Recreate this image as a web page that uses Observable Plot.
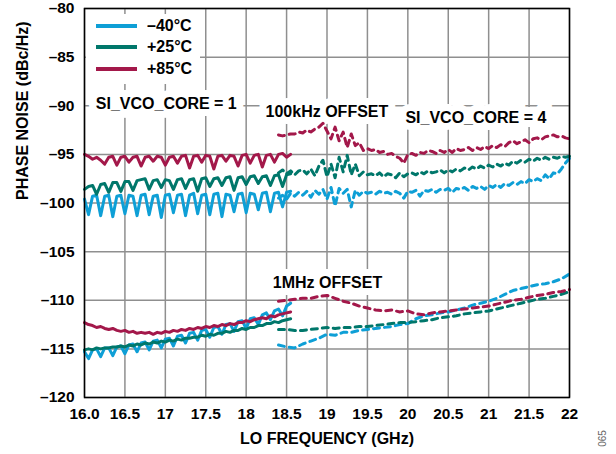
<!DOCTYPE html>
<html>
<head>
<meta charset="utf-8">
<script src="https://cdn.jsdelivr.net/npm/d3@7"></script>
<script src="https://cdn.jsdelivr.net/npm/@observablehq/plot@0.6"></script>
<style>
  html, body { margin: 0; padding: 0; background: #fff; }
  #wrap { position: relative; width: 616px; height: 454px; font-family: "Liberation Sans", Arial, sans-serif; }
  #legend { position: absolute; left: 86px; top: 14px; width: 114px; height: 70px; background: #fff; }
  .item { position: absolute; left: 10px; height: 20px; display: flex; align-items: center; font-weight: bold; font-size: 16px; color: #000; }
  .sw { width: 41px; height: 4px; margin-right: 10px; }
  #code { position: absolute; left: 594px; top: 433px; font-size: 10px; color: #666; transform: rotate(-90deg); transform-origin: center; }
</style>
</head>
<body>
<div id="wrap">
  <div id="chart"></div>
  <div id="legend"></div>
  <div id="code">065</div>
</div>
<script>
// ---------- Data ----------
const tempLabels = ["–40°C", "+25°C", "+85°C"];
const tempColors = ["#0e9fd6", "#00776b", "#a3184a"];

const xTicks = [16, 16.5, 17, 17.5, 18, 18.5, 19, 19.5, 20, 20.5, 21, 21.5, 22];
const xTickLabels = ["16.0", "16.5", "17", "17.5", "18", "18.5", "19", "19.5", "20", "20.5", "21", "21.5", "22"];
const yTicks = [-80, -85, -90, -95, -100, -105, -110, -115, -120];
const yTickLabels = ["–80", "–85", "–90", "–95", "–100", "–105", "–110", "–115", "–120"];

// SI_VCO_CORE = 1 frequency points (GHz)
const freqCore1 = [
  16.00,16.05,16.10,16.15,16.20,16.25,16.30,16.35,16.40,16.45,
  16.50,16.55,16.60,16.65,16.70,16.75,16.80,16.85,16.90,16.95,
  17.00,17.05,17.10,17.15,17.20,17.25,17.30,17.35,17.40,17.45,
  17.50,17.55,17.60,17.65,17.70,17.75,17.80,17.85,17.90,17.95,
  18.00,18.05,18.10,18.15,18.20,18.25,18.30,18.35,18.40,18.45,
  18.50,18.55];

// 100 kHz offset, SI_VCO_CORE = 1
const pn100kCore1_m40 = [
  -99.6,-101.2,-99.3,-99.2,-101.3,-99.3,-99.2,-101.4,-99.3,-99.2,
  -101.1,-99.2,-99.3,-101.3,-99.2,-99.1,-101.2,-99.3,-99.2,-101.5,
  -99.2,-99.1,-101.0,-99.2,-99.1,-101.3,-99.2,-99.0,-101.1,-99.2,
  -99.1,-101.2,-99.1,-99.0,-101.4,-99.1,-99.2,-100.9,-99.1,-99.0,
  -101.0,-99.0,-99.1,-100.7,-99.0,-98.9,-100.9,-99.0,-98.9,-100.4,
  -98.9,-98.8];
const pn100kCore1_p25 = [
  -98.6,-98.3,-98.2,-99.1,-98.1,-98.0,-98.9,-97.9,-97.9,-98.8,
  -97.8,-97.8,-98.7,-97.7,-97.6,-97.5,-98.6,-97.7,-97.6,-98.4,
  -97.6,-97.7,-98.6,-97.6,-97.5,-98.5,-97.6,-97.5,-98.8,-97.5,
  -97.4,-98.3,-97.5,-97.4,-98.2,-97.4,-97.3,-98.7,-97.4,-97.3,
  -98.1,-97.3,-97.2,-98.0,-97.3,-97.2,-98.2,-97.2,-97.1,-98.3,
  -97.1,-97.0];
const pn100kCore1_p85 = [
  -95.0,-95.2,-95.5,-95.3,-95.6,-96.0,-95.3,-95.2,-96.1,-95.3,
  -95.2,-95.8,-95.3,-95.2,-96.2,-95.3,-95.2,-95.7,-95.2,-95.3,
  -96.1,-95.3,-95.2,-95.9,-95.2,-95.1,-96.4,-95.2,-95.1,-95.8,
  -95.1,-95.2,-96.5,-95.2,-95.1,-95.7,-95.1,-95.2,-96.2,-95.1,
  -95.0,-95.9,-95.1,-95.0,-96.3,-95.1,-95.0,-95.8,-95.0,-94.9,
  -95.3,-95.0];

// 1 MHz offset, SI_VCO_CORE = 1
const pn1MCore1_m40 = [
  -115.3,-116.0,-115.1,-115.0,-115.8,-114.9,-114.9,-115.7,-114.8,-114.7,
  -115.5,-114.6,-114.5,-115.3,-114.4,-114.3,-115.1,-114.2,-114.1,-114.9,
  -114.0,-113.9,-114.7,-113.7,-113.6,-114.4,-113.4,-113.3,-114.1,-113.1,
  -113.0,-113.8,-112.8,-112.7,-113.5,-112.5,-112.4,-113.2,-112.2,-112.1,
  -112.9,-111.9,-111.8,-112.5,-111.5,-111.3,-112.0,-111.1,-110.9,-111.6,
  -110.6,-110.3];
const pn1MCore1_p25 = [
  -115.1,-115.0,-115.1,-114.9,-115.0,-114.9,-114.9,-114.8,-114.8,-114.7,
  -114.8,-114.6,-114.7,-114.5,-114.6,-114.4,-114.5,-114.3,-114.4,-114.2,
  -114.3,-114.1,-114.2,-114.0,-114.1,-113.9,-113.9,-113.8,-113.8,-113.6,
  -113.7,-113.5,-113.6,-113.4,-113.4,-113.2,-113.3,-113.1,-113.1,-112.9,
  -113.0,-112.8,-112.8,-112.6,-112.6,-112.4,-112.4,-112.2,-112.3,-112.1,
  -112.0,-111.9];
const pn1MCore1_p85 = [
  -112.3,-112.5,-112.6,-112.8,-112.7,-112.9,-113.0,-112.9,-113.1,-113.2,
  -113.1,-113.3,-113.2,-113.4,-113.3,-113.4,-113.3,-113.5,-113.3,-113.4,
  -113.2,-113.3,-113.1,-113.2,-113.0,-113.1,-112.9,-113.0,-112.8,-112.9,
  -112.7,-112.8,-112.6,-112.7,-112.5,-112.6,-112.4,-112.5,-112.3,-112.3,
  -112.1,-112.2,-112.0,-111.9,-111.8,-111.9,-111.6,-111.7,-111.5,-111.4,
  -111.3,-111.2];

// SI_VCO_CORE = 4, 100 kHz offset frequency points (GHz)
const freqCore4a = [
  18.40,18.45,18.50,18.55,18.60,18.65,18.70,18.75,18.80,18.85,
  18.90,18.95,19.00,19.05,19.10,19.15,19.20,19.25,19.30,19.35,
  19.40,19.45,19.50,19.55,19.60,19.65,19.70,19.75,19.80,19.85,
  19.90,19.95,20.00,20.05,20.10,20.15,20.20,20.25,20.30,20.35,
  20.40,20.45,20.50,20.55,20.60,20.65,20.70,20.75,20.80,20.85,
  20.90,20.95,21.00,21.05,21.10,21.15,21.20,21.25,21.30,21.35,
  21.40,21.45,21.50,21.55,21.60,21.65,21.70,21.75,21.80,21.85,
  21.90,21.95,22.00];
const pn100kCore4_m40 = [
  -99.5,-99.2,-99.6,-99.0,-99.3,-98.9,-99.2,-98.8,-99.4,-98.7,
  -99.1,-98.6,-99.6,-98.4,-100.3,-98.5,-99.0,-98.6,-100.4,-98.7,
  -99.2,-98.8,-99.0,-98.9,-99.1,-98.8,-99.0,-98.9,-99.1,-98.8,
  -99.0,-99.5,-98.8,-98.9,-98.7,-99.3,-98.7,-98.8,-98.6,-98.9,
  -98.6,-98.7,-98.5,-98.9,-98.5,-98.6,-98.4,-98.7,-98.3,-98.5,
  -98.3,-98.6,-98.2,-98.4,-98.1,-98.4,-98.0,-98.2,-97.9,-98.1,
  -97.8,-98.0,-97.6,-97.8,-97.5,-97.7,-97.1,-97.5,-96.9,-97.0,
  -96.5,-95.9,-95.4];
const pn100kCore4_p25 = [
  -96.9,-96.6,-97.0,-96.7,-97.1,-96.7,-96.6,-97.0,-96.5,-97.2,
  -96.2,-95.6,-97.3,-96.0,-97.4,-95.3,-96.8,-95.1,-97.1,-96.0,
  -97.2,-96.8,-97.1,-97.0,-97.2,-96.9,-97.3,-97.0,-97.1,-97.4,
  -96.9,-97.3,-97.0,-96.9,-97.1,-96.8,-97.0,-96.7,-96.9,-96.8,
  -96.6,-96.9,-96.6,-96.8,-96.5,-96.7,-96.4,-96.6,-96.3,-96.5,
  -96.2,-96.4,-96.1,-96.3,-96.0,-96.2,-95.9,-96.1,-95.7,-95.9,
  -95.6,-95.8,-95.5,-95.7,-95.4,-95.6,-95.3,-95.5,-95.3,-95.4,
  -95.2,-95.3,-95.2];
const pn100kCore4_p85 = [
  -93.0,-93.1,-93.0,-92.9,-92.9,-92.7,-92.8,-92.5,-92.7,-92.4,
  -92.2,-91.8,-92.6,-93.4,-92.2,-93.6,-92.7,-94.3,-92.9,-94.1,
  -93.8,-94.6,-94.4,-94.6,-94.5,-94.8,-94.7,-95.0,-94.9,-95.2,
  -95.4,-95.9,-95.0,-94.9,-95.1,-94.8,-94.9,-94.6,-94.7,-94.9,
  -94.6,-94.8,-94.5,-94.8,-94.4,-94.6,-94.5,-94.3,-94.6,-94.3,
  -94.5,-94.2,-94.4,-94.1,-94.3,-94.0,-94.2,-93.8,-93.6,-93.9,
  -93.7,-93.5,-93.8,-93.4,-93.3,-93.5,-93.2,-93.1,-93.0,-93.2,
  -93.1,-93.3,-93.4];

// SI_VCO_CORE = 4, 1 MHz offset frequency points (GHz)
const freqCore4b = [
  18.4,18.5,18.6,18.7,18.8,18.9,19.0,19.1,19.2,19.3,
  19.4,19.5,19.6,19.7,19.8,19.9,20.0,20.1,20.2,20.3,
  20.4,20.5,20.6,20.7,20.8,20.9,21.0,21.1,21.2,21.3,
  21.4,21.5,21.6,21.7,21.8,21.9,22.0];
const pn1MCore4_m40 = [
  -114.6,-114.8,-114.9,-114.5,-114.2,-113.9,-113.5,-113.6,-113.3,-113.3,
  -113.1,-113.0,-112.9,-112.8,-112.7,-112.5,-112.4,-111.9,-111.6,-111.5,
  -111.3,-111.2,-111.0,-110.8,-110.5,-110.3,-110.1,-109.8,-109.4,-109.0,
  -108.8,-108.6,-108.4,-108.3,-108.1,-107.8,-107.3];
const pn1MCore4_p25 = [
  -113.0,-113.0,-113.1,-113.1,-113.0,-112.9,-112.8,-112.9,-112.8,-112.8,
  -112.7,-112.7,-112.6,-112.5,-112.4,-112.3,-112.3,-112.2,-112.1,-112.0,
  -111.8,-111.7,-111.6,-111.4,-111.3,-111.2,-111.1,-110.9,-110.7,-110.5,
  -110.3,-110.1,-109.9,-109.8,-109.6,-109.4,-109.1];
const pn1MCore4_p85 = [
  -110.1,-110.0,-109.9,-109.8,-109.8,-109.6,-109.5,-109.8,-110.1,-110.3,
  -110.6,-110.8,-111.0,-111.1,-111.0,-111.2,-111.1,-111.4,-111.5,-111.3,
  -111.2,-111.1,-111.0,-110.9,-110.8,-110.7,-110.6,-110.4,-110.2,-110.0,
  -109.9,-109.7,-109.5,-109.4,-109.2,-109.1,-108.9];

// ---------- Build tables ----------
const seriesDefs = [
  {key: "100k-1-m40", temp: tempLabels[0], freq: freqCore1, pn: pn100kCore1_m40, dashed: false},
  {key: "100k-1-p25", temp: tempLabels[1], freq: freqCore1, pn: pn100kCore1_p25, dashed: false},
  {key: "100k-1-p85", temp: tempLabels[2], freq: freqCore1, pn: pn100kCore1_p85, dashed: false},
  {key: "1M-1-m40", temp: tempLabels[0], freq: freqCore1, pn: pn1MCore1_m40, dashed: false},
  {key: "1M-1-p25", temp: tempLabels[1], freq: freqCore1, pn: pn1MCore1_p25, dashed: false},
  {key: "1M-1-p85", temp: tempLabels[2], freq: freqCore1, pn: pn1MCore1_p85, dashed: false},
  {key: "100k-4-m40", temp: tempLabels[0], freq: freqCore4a, pn: pn100kCore4_m40, dashed: true},
  {key: "100k-4-p25", temp: tempLabels[1], freq: freqCore4a, pn: pn100kCore4_p25, dashed: true},
  {key: "100k-4-p85", temp: tempLabels[2], freq: freqCore4a, pn: pn100kCore4_p85, dashed: true},
  {key: "1M-4-m40", temp: tempLabels[0], freq: freqCore4b, pn: pn1MCore4_m40, dashed: true},
  {key: "1M-4-p25", temp: tempLabels[1], freq: freqCore4b, pn: pn1MCore4_p25, dashed: true},
  {key: "1M-4-p85", temp: tempLabels[2], freq: freqCore4b, pn: pn1MCore4_p85, dashed: true}
];
const rows = [];
for (const s of seriesDefs) {
  const n = Math.min(s.freq.length, s.pn.length);
  for (let i = 0; i < n; i++) rows.push({key: s.key, temp: s.temp, dashed: s.dashed, f: s.freq[i], pn: s.pn[i]});
}
const solidRows = rows.filter(d => !d.dashed);
const dashedRows = rows.filter(d => d.dashed);

const FONT = "'Liberation Sans', Arial, sans-serif";
const annot = (txt, x, y) => Plot.text([txt], {
  x: () => x, y: () => y, text: d => d, textAnchor: "start",
  fontSize: 16, fontWeight: "bold", fill: "black", stroke: "white", strokeWidth: 14, strokeLinejoin: "miter"
});

const chart = Plot.plot({
  width: 616, height: 454,
  marginLeft: 84, marginRight: 47, marginTop: 8, marginBottom: 57,
  style: {fontFamily: FONT, background: "white", overflow: "visible"},
  x: {domain: [16, 22]},
  y: {domain: [-120, -80]},
  color: {domain: tempLabels, range: tempColors},
  marks: [
    Plot.gridX(xTicks, {stroke: "#8f8f8f", strokeOpacity: 1, strokeWidth: 1.5}),
    Plot.gridY(yTicks, {stroke: "#8f8f8f", strokeOpacity: 1, strokeWidth: 1.5}),
    annot("SI_VCO_CORE = 1", 16.14, -89.85),
    annot("100kHz OFFSET", 18.24, -90.67),
    annot("SI_VCO_CORE = 4", 19.97, -91.2),
    annot("1MHz OFFSET", 18.33, -108.2),
    Plot.line(solidRows, {x: "f", y: "pn", z: "key", stroke: "temp", strokeWidth: 3, curve: "linear"}),
    Plot.line(dashedRows, {x: "f", y: "pn", z: "key", stroke: "temp", strokeWidth: 3, strokeDasharray: "6,5", curve: "linear"}),
    Plot.frame({stroke: "black", strokeWidth: 1.5}),
    Plot.axisX(xTicks, {tickSize: 0, tickPadding: 10, tickFormat: (d, i) => xTickLabels[xTicks.indexOf(d)], fontSize: 15.5, fontWeight: "bold", fill: "black", label: null}),
    Plot.axisY(yTicks, {tickSize: 0, tickPadding: 10, tickFormat: (d) => yTickLabels[yTicks.indexOf(d)], fontSize: 15.5, fontWeight: "bold", fill: "black", label: null}),
    Plot.text(["LO FREQUENCY (GHz)"], {frameAnchor: "bottom", dy: 46, text: d => d, fontSize: 16, fontWeight: "bold", fill: "black"}),
    Plot.text(["PHASE NOISE (dBc/Hz)"], {frameAnchor: "left", dx: -62, dy: -3, rotate: -90, text: d => d, fontSize: 16, fontWeight: "bold", fill: "black"})
  ]
});
document.getElementById("chart").appendChild(chart);

// Legend (inside the plot area, upper left)
const legend = document.getElementById("legend");
const legendTops = [2, 23, 45];
tempLabels.forEach((t, i) => {
  const item = document.createElement("div");
  item.className = "item";
  item.style.top = legendTops[i] + "px";
  const sw = document.createElement("span");
  sw.className = "sw";
  sw.style.background = tempColors[i];
  const lab = document.createElement("span");
  lab.textContent = t;
  item.appendChild(sw);
  item.appendChild(lab);
  legend.appendChild(item);
});
</script>
</body>
</html>
